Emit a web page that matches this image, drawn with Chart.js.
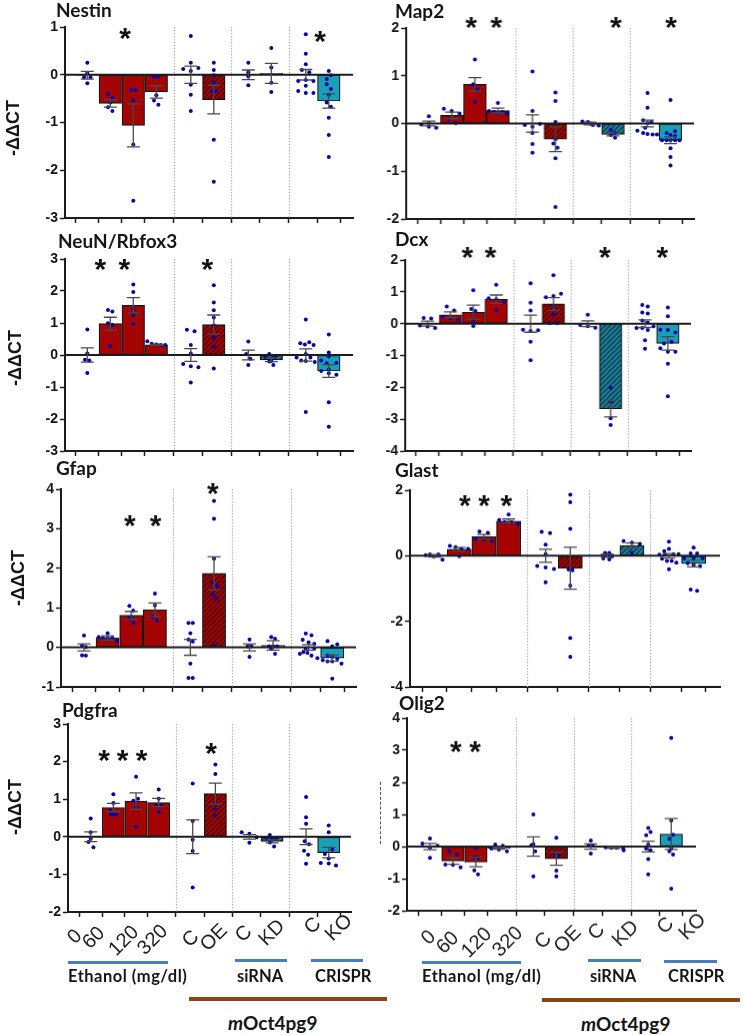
<!DOCTYPE html>
<html><head><meta charset="utf-8">
<script src="https://cdn.jsdelivr.net/npm/chart.js@4"></script>
<style>
html,body{margin:0;padding:0;background:#fff;width:744px;height:1035px;overflow:hidden}
#page{position:relative;width:744px;height:1035px}
canvas{position:absolute}
.t{position:absolute;font-family:Lato,"Open Sans",sans-serif;font-weight:700;color:#151515;white-space:nowrap;line-height:1}
.y{position:absolute;font-family:"Liberation Sans",Arial,sans-serif;font-weight:700;font-size:18px;color:#151515;white-space:nowrap;line-height:1;transform:translate(-50%,-50%) rotate(-90deg)}
.b{position:absolute}
</style></head><body><div id="page"></div>
<script>
const xPositions=[0,1,2,3,4.5,5.5,7,8,9.5,10.5];
const separators=[3.75,6.25,8.75];
const xLabels=['0','60','120','320','C','OE','C','KD','C','KO'];

// Means of each group
const nestinMeans=[-0.01,-0.6,-1.06,-0.36,0,-0.52,0,0.03,0,-0.55];
const map2Means=[0,0.17,0.82,0.27,0,-0.33,0,-0.23,0,-0.35];
const neunMeans=[0,0.98,1.55,0.32,0,0.95,0,-0.15,0,-0.5];
const dcxMeans=[0,0.28,0.36,0.77,0,0.62,0,-2.67,0,-0.62];
const gfapMeans=[0,0.24,0.81,0.95,0,1.87,0,0.05,0,-0.27];
const glastMeans=[0,0.2,0.58,1.06,0,-0.38,0,0.31,0,-0.24];
const pdgfraMeans=[0,0.78,0.95,0.91,0,1.15,0,-0.12,0,-0.42];
const olig2Means=[0,-0.45,-0.48,-0.05,0,-0.38,0,-0.04,0,0.39];

// Standard errors
const nestinSem=[0.08,0.08,0.45,0.13,0.18,0.3,0.1,0.21,0.11,0.15];
const map2Sem=[0.05,0.07,0.14,0.05,0.18,0.26,0.03,0.03,0.07,0.07];
const neunSem=[0.22,0.2,0.24,0.02,0.2,0.3,0.15,0.06,0.19,0.2];
const dcxSem=[0.08,0.09,0.22,0.13,0.27,0.2,0.09,0.26,0.12,0.21];
const gfapSem=[0.09,0.05,0.1,0.17,0.2,0.42,0.09,0.12,0.07,0.08];
const glastSem=[0.04,0.05,0.07,0.06,0.2,0.64,0.05,0.08,0.07,0.1];
const pdgfraSem=[0.13,0.11,0.22,0.11,0.45,0.28,0.06,0.04,0.21,0.14];
const olig2Sem=[0.1,0.1,0.15,0.03,0.3,0.2,0.08,0.02,0.17,0.48];

// Individual samples: [x on the group axis, value]
const nestinDots=[[0,.25],[0,.03],[-.14,-.05],[.14,-.05],[0,-.18],
[.9,-.41],[1.09,-.48],[1,-.58],[.9,-.68],[1.09,-.76],
[1.9,-.32],[2.1,-.32],[2,-.54],[2,-1.46],[2,-2.64],
[2.9,-.04],[3.09,-.04],[3,-.43],[2.9,-.54],[3.09,-.63],
[4.5,.81],[4.5,.25],[4.17,.12],[4.83,.14],[4.5,.08],[4.5,-.21],[4.5,-.42],[4.5,-.76],
[5.5,.25],[5.5,.1],[5.5,-.01],[5.5,-.16],[5.41,-.34],[5.59,-.34],[5.5,-1.36],[5.5,-2.24],
[7,.25],[7,.05],[7,-.03],[7,-.22],
[8,.56],[8,.15],[8,-.17],[8,-.36],
[9.5,.85],[9.5,.44],[9.5,.22],[9.33,.1],[9.65,.05],[9.17,-.13],[9.83,-.13],[9.5,-.11],[9.5,-.23],[9.17,-.34],[9.5,-.38],[9.83,-.38],
[10.5,.08],[10.41,-.09],[10.59,-.01],[10.41,-.2],[10.59,-.3],[10.5,-.42],[10.41,-.58],[10.59,-.67],[10.5,-.9],[10.5,-1.26],[10.5,-1.72]];
const map2Dots=[[-.33,-.02],[0,.15],[0,.01],[0,-.07],[.32,-.09],
[.65,.31],[.99,.26],[1.33,.21],[.84,.09],[1.16,.01],
[2,1.34],[1.93,.82],[2.1,.71],[2,.45],
[3,.43],[2.61,.26],[2.83,.24],[3,.22],[3.19,.24],[3.39,.21],
[4.5,1.09],[4.5,.26],[4.17,-.03],[4.83,-.01],[4.5,-.07],[4.5,-.2],[4.5,-.43],[4.5,-.61],
[5.5,.65],[5.5,.47],[5.5,.03],[5.5,-.33],[5.41,-.42],[5.59,-.51],[5.5,-.73],[5.5,-1.75],
[6.67,.04],[6.91,.03],[7.12,-.03],[7.38,-.04],[7,0],
[7.91,-.13],[8.09,-.2],[7.91,-.24],[8.09,-.3],
[9.5,.64],[9.5,.33],[9.31,.07],[9.67,.03],[9.5,.01],[9.4,-.09],[9.06,-.15],[9.31,-.2],[9.5,-.22],[9.72,-.23],[9.91,-.23],
[10.5,.49],[10.7,-.16],[10.33,-.2],[10.5,-.24],[10.7,-.26],[10.13,-.35],[10.33,-.35],[10.5,-.35],[10.7,-.35],[10.89,-.35],[10.5,-.52],[10.5,-.7],[10.5,-.88]];
const neunDots=[[0,.8],[0,.05],[-.1,-.15],[.09,-.17],[0,-.56],
[.9,1.41],[1.09,1.36],[.9,.99],[1.09,.94],[1,.27],
[2,2.2],[2,1.97],[2,1.44],[2,1.25],[2,.97],
[2.61,.43],[2.8,.35],[3,.33],[3.19,.31],[3.39,.31],
[4.33,.79],[4.66,.74],[4.5,.31],[4.5,.05],[4.17,-.28],[4.5,-.35],[4.83,-.38],[4.5,-.86],
[5.5,2.18],[5.5,1.64],[5.5,1.4],[5.5,1.17],[5.5,.92],[5.5,.54],[5.5,.26],[5.5,-.42],
[7,.42],[6.91,.03],[7.09,-.12],[7,-.31],
[7.91,.03],[7.75,-.08],[8,-.19],[8.17,-.08],[7.91,-.2],[8.09,-.31],
[9.5,1.11],[9.26,.37],[9.46,.33],[9.65,.4],[9.84,.31],[9.5,.03],[9.1,-.08],[9.3,-.17],[9.5,-.19],[9.7,-.08],[9.89,-.22],[9.5,-1.78],
[10.5,.64],[10.5,.08],[10.5,-.05],[10.17,-.17],[10.41,-.26],[10.83,-.24],[10.5,-.45],[10.17,-.5],[10.5,-.57],[10.83,-.62],[10.5,-1.48],[10.5,-2.24]];
const dcxDots=[[-.17,.18],[.16,.16],[-.33,-.06],[0,-.09],[.33,-.14],
[.84,.54],[1.16,.41],[.68,.22],[1,.17],[1.33,.13],
[2,1.05],[1.91,.46],[2.09,.4],[2,.12],[2,-.07],
[3,1.22],[2.67,.8],[3,.77],[3.33,.68],[3,.42],
[4.5,1.27],[4.5,.66],[4.5,.41],[4.17,-.19],[4.5,-.23],[4.83,-.21],[4.5,-.57],[4.5,-1.15],
[5.5,1.52],[5.17,.83],[5.5,.87],[5.83,.94],[5.5,.55],[5.5,.3],[5.33,.01],[5.66,.01],
[7,.28],[6.67,-.04],[7,-.08],[7.33,-.13],
[8,-2.01],[8,-2.45],[8,-2.97],[8,-3.18],
[9.38,.59],[9.62,.54],[9.38,.35],[9.62,.32],[9.38,.1],[9.62,.04],[9.87,-.08],[9.13,-.14],[9.38,-.14],[9.62,-.2],[9.5,-.52],[9.5,-.79],
[10.5,.51],[10.5,.23],[10.17,-.19],[10.5,-.2],[10.83,-.28],[10.66,-.57],[10.33,-.62],[10.17,-.77],[10.5,-.88],[10.83,-.88],[10.5,-1.26],[10.5,-2.28]];
const gfapDots=[[0,.3],[-.08,.05],[.08,.01],[-.08,-.2],[.08,-.21],
[.62,.26],[1,.36],[1,.24],[.8,.24],[1.2,.24],[1.39,.16],
[1.92,1.05],[2.08,.93],[1.92,.74],[2,.77],[2.08,.62],
[3,1.36],[3,1.06],[2.9,.77],[3.08,.68],
[4.42,.62],[4.6,.62],[4.5,.36],[4.42,.2],[4.6,.15],[4.5,-.41],[4.42,-.77],[4.6,-.77],
[5.5,3.7],[5.5,3.25],[5.5,2.24],[5.43,1.64],[5.63,1.55],[5.43,1.34],[5.6,1.24],[5.5,.05],
[7,.2],[6.92,.03],[7.08,.03],[7,-.24],
[7.92,.26],[8.08,.22],[7.83,.03],[8,.03],[8.17,.03],[7.92,-.03],[8.08,-.16],
[9.38,.35],[9.62,.31],[9.5,.13],[9.74,.09],[9.25,.19],[9.38,-.03],[9.74,-.03],[9.13,-.16],[9.28,-.12],[9.45,-.14],[9.62,-.21],[9.87,-.27],
[10.3,.16],[10.71,.08],[10.5,.03],[10.3,-.2],[10.5,-.23],[10.71,-.29],[10.1,-.32],[10.3,-.35],[10.5,-.35],[10.89,-.41],[10.5,-.79]];
const glastDots=[[-.36,.02],[-.19,.04],[-.03,-.02],[.15,.04],[.32,-.12],
[.62,.3],[.85,.26],[1.09,.21],[1.36,.21],[1,-.01],
[1.82,.74],[2.16,.7],[1.66,.51],[2,.5],[2.32,.44],
[3,1.26],[2.62,1.09],[2.84,1.02],[3.12,1.02],[3.38,.97],
[4.34,.73],[4.68,.69],[4.5,.34],[4.5,.05],[4.16,-.31],[4.5,-.36],[4.84,-.4],[4.5,-.81],
[5.5,1.86],[5.5,1.63],[5.5,.82],[5.43,-.42],[5.59,-.44],[5.5,-.91],[5.5,-2.51],[5.5,-3.08],
[6.91,.09],[7.08,.09],[6.84,-.08],[7,0],[7.08,-.11],[7.18,-.03],
[7.66,.45],[8,.4],[8.32,.36],[8,.09],
[9.5,.43],[9.5,.21],[9.31,.14],[9.11,.03],[9.34,.03],[9.68,.05],[9.89,.05],[9.22,-.09],[9.42,-.16],[9.61,-.16],[9.8,-.21],[9.5,-.41],
[10.5,.25],[10.38,.07],[10.64,.07],[10.12,-.08],[10.5,-.08],[10.86,-.08],[10.26,-.23],[10.5,-.28],[10.76,-.32],[10.38,-1.03],[10.64,-1.07]];
const pdgfraDots=[[0,.49],[0,.12],[0,-.05],[-.1,-.14],[.12,-.28],
[1,1.13],[1,.9],[.88,.7],[1,.59],[1.13,.59],[.88,.59],
[2,1.6],[1.88,.96],[2.09,1.01],[2,.79],[2,.27],
[3,1.26],[3,1.01],[2.88,.83],[3.12,.83],[3,.65],
[4.5,1.42],[4.5,.42],[4.5,-.08],[4.5,-.38],[4.5,-1.35],
[5.5,1.92],[5.5,1.67],[5.49,.9],[5.49,.73],[5.49,.56],
[6.66,.12],[7,.08],[7.32,-.01],[7,-.16],
[7.9,.05],[8,-.04],[7.75,-.04],[7.91,-.15],[8.09,-.26],[8.18,-.05],
[9.5,1.06],[9.5,.52],[9.5,.35],[9.44,-.12],[9.63,-.2],[9.41,-.37],[9.59,-.48],[9.5,-.72],
[10.5,.3],[10.5,.12],[10.33,-.46],[10.66,-.34],[10.5,-.58],[10.15,-.7],[10.5,-.71],[10.82,-.76]];
const olig2Dots=[[0,.25],[-.33,.09],[.33,.02],[0,-.04],[0,-.35],
[.84,-.15],[1.17,-.25],[.67,-.56],[1,-.57],[1.33,-.65],
[2,-.04],[1.93,-.33],[2.09,-.35],[1.93,-.74],[2.09,-.87],
[2.84,.06],[2.67,-.06],[3,-.09],[3.17,.02],[3.35,-.15],
[4.5,1],[4.41,.04],[4.5,.08],[4.58,-.15],[4.5,-.93],
[5.5,.27],[5.4,-.2],[5.6,-.27],[5.5,-.75],[5.5,-.93],
[7,.19],[6.91,.04],[7.09,.04],[7,-.22],
[7.65,-.02],[7.9,-.04],[8.12,-.04],[8.41,-.06],[8.43,-.12],
[9.5,.58],[9.6,.45],[9.41,.35],[9.5,.06],[9.41,-.06],[9.6,-.12],[9.5,-.39],[9.5,-.87],
[10.5,3.38],[10.5,.81],[10.58,.37],[10.42,.24],[10.5,-.06],[10.42,-.15],[10.58,-.25],[10.5,-1.31]];

// Significance marks: [x on the group axis, value]
const nestinStars=[[1.64,.86],[10.12,.8]];
const map2Stars=[[1.84,2.11],[2.93,2.11],[8.13,2.11],[10.52,2.11]];
const neunStars=[[.57,2.81],[1.61,2.81],[5.22,2.81]];
const dcxStars=[[1.74,2.21],[2.75,2.21],[7.75,2.21],[10.26,2.21]];
const gfapStars=[[1.94,3.2],[3.03,3.2],[5.45,4]];
const glastStars=[[1.23,1.65],[2.01,1.65],[2.91,1.65]];
const pdgfraStars=[[.59,2.16],[1.41,2.16],[2.24,2.16],[5.31,2.34]];
const olig2Stars=[[1.13,3.1],[1.96,3.1]];

const RED='#a50404',TEAL='#199fb8',DOT='#0505a8',AX='#1c1c1c';
const PAD_L=60,PAD_T=30;

function hatch(base,stripe){
  const c=document.createElement('canvas');c.width=c.height=5;
  const g=c.getContext('2d');g.fillStyle=base;g.fillRect(0,0,5,5);
  g.strokeStyle=stripe;g.lineWidth=1.5;
  g.beginPath();g.moveTo(-1,6);g.lineTo(6,-1);g.moveTo(-1,1);g.lineTo(1,-1);g.moveTo(4,6);g.lineTo(6,4);g.stroke();
  return g.createPattern(c,'repeat');
}
const redHatch=hatch('#a50404','#4e0606');
const tealHatch=hatch('#1b8299','#0b3f50');
const barFills=[RED,RED,RED,RED,RED,redHatch,TEAL,tealHatch,TEAL,TEAL];

const overlay={id:'overlay',
  beforeDatasetsDraw(ch){
    const a=ch.chartArea,x=ch.scales.x,g=ch.ctx;
    g.save();g.strokeStyle='#b5b5b5';g.lineWidth=1.2;g.setLineDash([1.5,1.5]);
    separators.forEach(s=>{const p=Math.round(x.getPixelForValue(s))+.5;g.beginPath();g.moveTo(p,a.top);g.lineTo(p,a.bottom);g.stroke();});
    g.restore();
  },
  afterDatasetsDraw(ch,_,o){
    const a=ch.chartArea,x=ch.scales.x,y=ch.scales.y,g=ch.ctx;
    g.save();
    g.strokeStyle=AX;g.lineWidth=2;
    const z=y.getPixelForValue(0);
    g.beginPath();g.moveTo(a.left,z);g.lineTo(a.right,z);g.stroke();
    g.strokeStyle='#4a4a4a';g.lineWidth=1.3;
    xPositions.forEach((p,i)=>{
      const px=x.getPixelForValue(p),hi=y.getPixelForValue(o.means[i]+o.sem[i]),lo=y.getPixelForValue(o.means[i]-o.sem[i]);
      g.beginPath();g.moveTo(px,hi);g.lineTo(px,lo);
      g.moveTo(px-6.5,hi);g.lineTo(px+6.5,hi);g.moveTo(px-6.5,lo);g.lineTo(px+6.5,lo);g.stroke();
    });
    g.fillStyle='#111';g.font='bold 30px "Liberation Sans",Arial,sans-serif';g.textAlign='center';g.textBaseline='alphabetic';
    o.stars.forEach(s=>{
      const m=g.measureText('*');
      const off=(m.actualBoundingBoxAscent-m.actualBoundingBoxDescent)/2;
      g.fillText('*',x.getPixelForValue(s[0]),y.getPixelForValue(s[1])+off);
    });
    if(o.labelOffsets){
      g.fillStyle='#222';g.font='20px "Liberation Sans",Arial,sans-serif';g.textBaseline='middle';
      xLabels.forEach((t,i)=>{
        const [dx,dy]=o.labelOffsets[i];
        g.save();g.translate(x.getPixelForValue(xPositions[i])+dx,a.bottom+dy);g.rotate(-Math.PI/4);
        g.fillText(t,0,0);g.restore();
      });
    }
    g.restore();
  }
};

function panel(c){
  const el=document.createElement('canvas');
  const bottomExtra=c.labelOffsets?70:6;
  const w=c.right-c.left+PAD_L+12,h=c.bottom-c.top+PAD_T+8+bottomExtra;
  el.width=w;el.height=h;el.style.left=(c.left-PAD_L)+'px';el.style.top=(c.top-PAD_T)+'px';
  el.style.width=w+'px';el.style.height=h+'px';
  document.getElementById('page').appendChild(el);
  const xMin=(c.left-c.x0)/c.step,xMax=(c.right-c.x0)/c.step;
  new Chart(el,{
    data:{datasets:[
      {type:'scatter',data:c.dots.map(d=>({x:d[0],y:d[1]})),backgroundColor:DOT,borderColor:DOT,pointRadius:2,pointBorderWidth:0,order:1},
      {type:'bar',data:xPositions.map((p,i)=>({x:p,y:c.means[i]})),backgroundColor:barFills,borderColor:'#161616',borderWidth:1.2,barThickness:c.step*.98,borderSkipped:false,order:2}
    ]},
    plugins:[overlay],
    options:{responsive:false,animation:false,devicePixelRatio:1,
      layout:{padding:{top:PAD_T,left:0,right:12,bottom:bottomExtra}},
      plugins:{legend:{display:false},tooltip:{enabled:false},overlay:{means:c.means,sem:c.sem,stars:c.stars,labelOffsets:c.labelOffsets}},
      scales:{
        x:{type:'linear',min:xMin,max:xMax,offset:false,
          afterBuildTicks(s){s.ticks=xPositions.map(v=>({value:v}));},
          afterFit(s){s.height=8;},
          border:{color:AX,width:2},
          grid:{drawOnChartArea:false,drawTicks:true,tickLength:5,tickColor:AX,tickWidth:1.5},
          ticks:{display:false}},
        y:{type:'linear',min:c.min,max:c.max,
          afterFit(s){s.width=PAD_L;},
          border:{color:AX,width:2},
          grid:{drawOnChartArea:false,drawTicks:true,tickLength:5,tickColor:AX,tickWidth:1.5},
          ticks:{stepSize:c.yStep||1,color:'#151515',padding:2,font:{family:'"Liberation Sans",Arial,sans-serif',weight:'bold',size:14}}}
      }
    }
  });
}

const leftLabelOffsets=[[-15.7,25],[-19.4,26],[-12,29],[-5.7,28],[-1.7,27],[-1.4,26],[-5.4,22],[0,21],[7,14],[10.3,16]];
const rightLabelOffsets=[[-1.3,27],[-5,32],[1,32],[9,31],[10.2,30],[11.5,29],[6,21],[12,23],[17.5,15],[21.5,16]];

panel({left:65,right:353,top:26.7,bottom:218.3,x0:87.3,step:23,min:-3,max:1,means:nestinMeans,sem:nestinSem,dots:nestinDots,stars:nestinStars});
panel({left:406,right:693.7,top:27.7,bottom:219,x0:428.7,step:23,min:-2,max:2,means:map2Means,sem:map2Sem,dots:map2Dots,stars:map2Stars});
panel({left:65,right:353,top:259,bottom:451,x0:87.3,step:23,min:-3,max:3,means:neunMeans,sem:neunSem,dots:neunDots,stars:neunStars});
panel({left:405.3,right:691.3,top:260,bottom:451,x0:427.7,step:22.9,min:-4,max:2,means:dcxMeans,sem:dcxSem,dots:dcxDots,stars:dcxStars});
panel({left:60.7,right:356,top:489.3,bottom:686.7,x0:83.7,step:23.67,min:-1,max:4,means:gfapMeans,sem:gfapSem,dots:gfapDots,stars:gfapStars});
panel({left:409.7,right:719.7,top:490,bottom:686.7,x0:434.3,step:24.67,min:-4,max:2,yStep:2,means:glastMeans,sem:glastSem,dots:glastDots,stars:glastStars});
panel({left:68,right:351,top:723.7,bottom:911.7,x0:90.7,step:22.67,min:-2,max:3,means:pdgfraMeans,sem:pdgfraSem,dots:pdgfraDots,stars:pdgfraStars,labelOffsets:leftLabelOffsets});
panel({left:407,right:696.3,top:718.3,bottom:911,x0:430,step:23,min:-2,max:4,means:olig2Means,sem:olig2Sem,dots:olig2Dots,stars:olig2Stars,labelOffsets:rightLabelOffsets});

const page=document.getElementById('page');
function text(s,x,cy,size,html,ls){
  const d=document.createElement('div');d.className='t';d.style.left=x+'px';d.style.top=(cy-size/2)+'px';d.style.fontSize=size+'px';
  if(ls)d.style.letterSpacing=ls+'px';
  if(html)d.innerHTML=s;else d.textContent=s;page.appendChild(d);
}
function rule(x1,x2,y,h,col){
  const d=document.createElement('div');d.className='b';d.style.cssText+=`left:${x1}px;width:${x2-x1}px;top:${y-h/2}px;height:${h}px;background:${col}`;page.appendChild(d);
}
function ylab(x,y){
  const d=document.createElement('div');d.className='y';d.style.left=x+'px';d.style.top=y+'px';d.textContent='-ΔΔCT';page.appendChild(d);
}
[['Nestin',56,9],['Map2',395,10],['NeuN/Rbfox3',58,240],['Dcx',395,238],['Gfap',56,467],['Glast',395,469],['Pdgfra',62,709],['Olig2',399,702]]
 .forEach(t=>text(t[0],t[1],t[2],19));
ylab(13,128);ylab(15,358);ylab(18,578);ylab(15,807);
const dash=document.createElement('div');dash.className='b';
dash.style.cssText+='left:380px;top:782px;height:62px;border-left:1px dashed #555';page.appendChild(dash);

const BLUE='#4a7cc4',BROWN='#8a4513';
rule(68.3,167.7,962,3,BLUE);rule(234.7,286.7,960,3,BLUE);rule(310.7,362.7,960,3,BLUE);
rule(189.3,387,999,4,BROWN);
rule(422,521.3,962.7,3,BLUE);rule(588,640.7,960.7,3,BLUE);rule(664,716.7,961,3,BLUE);
rule(542,740.3,1000,4,BROWN);
text('Ethanol (mg/dl)',68,976,16.5,false,.5);text('siRNA',237,976,16.5);text('CRISPR',315,976,16.5);
text('Ethanol (mg/dl)',422,976,16.5,false,.5);text('siRNA',590,976,16.5);text('CRISPR',668,976,16.5);
text('<i>m</i>Oct4pg9',228,1022,19,true);text('<i>m</i>Oct4pg9',581,1023,19,true);
</script></body></html>
